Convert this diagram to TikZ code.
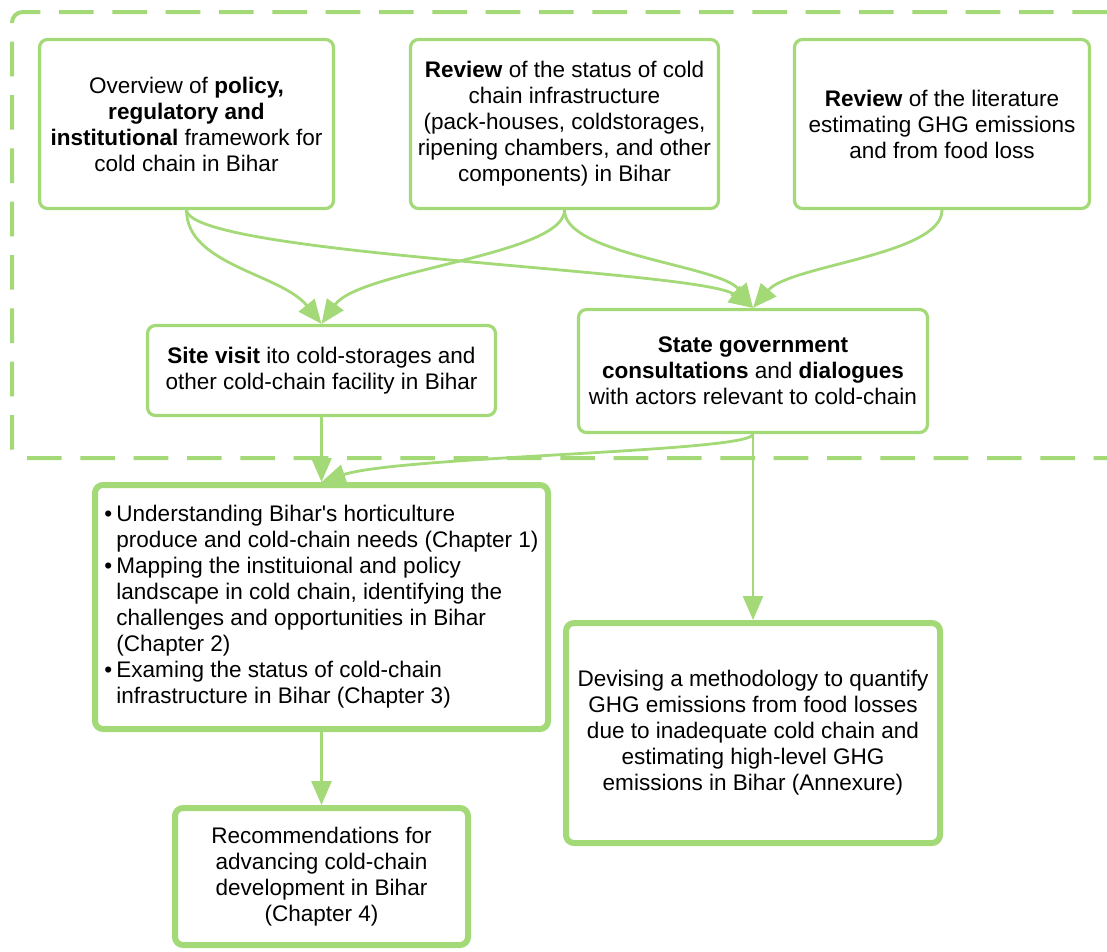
\documentclass[tikz,border=0pt]{standalone}
\usepackage{fontspec}
\setmainfont{Liberation Sans}[Ligatures=TeXOff]
\usetikzlibrary{arrows.meta}
\definecolor{leaf}{RGB}{163,217,119}
\newcommand{\bul}{\makebox[9pt][l]{\textbullet}}
\newcommand{\ind}{\hspace*{9pt}}

\begin{document}
\begin{tikzpicture}[x=0.75pt,y=-0.75pt,
  font=\fontsize{16.9}{19.5}\selectfont,
  box/.style={draw=leaf, line width=2.4pt, rounded corners=6pt, fill=white,
              align=center, inner sep=0pt},
  heavybox/.style={box, line width=4.5pt},
  link/.style={draw=leaf, line width=2.1pt, -{Triangle[length=18pt,width=15pt]}},
  outline/.style={draw=leaf, line width=3pt, dash pattern=on 26pt off 14pt,
                  rounded corners=8pt}]
\useasboundingbox (0,0) rectangle (1107,951);
\clip (0,0) rectangle (1107,951);

% dashed frame around the desk-review and consultation stages,
% open towards the right-hand edge
\draw[outline] (1107,12) -- (12,12) -- (12,458) -- (1107,458);

% top row
\node[box, minimum width=220.5pt, minimum height=126.75pt] (ov) at (186.5,124)
  {Overview of \textbf{policy,}\\ \textbf{regulatory and}\\
   \textbf{institutional} framework for\\ cold chain in Bihar};
\node[box, minimum width=231pt, minimum height=126.75pt] (rs) at (564.5,124)
  {\textbf{Review} of the status of cold\\ chain infrastructure\\
   (pack-houses, coldstorages,\\ ripening chambers, and other\\
   components) in Bihar};
\node[box, minimum width=221.25pt, minimum height=126.75pt] (lit) at (942,124)
  {\textbf{Review} of the literature\\ estimating GHG emissions\\ and from food loss};

% second row
\node[box, minimum width=261pt, minimum height=67.5pt] (site) at (321.5,370.5)
  {\textbf{Site visit} ito cold-storages and\\ other cold-chain facility in Bihar};
\node[box, minimum width=261.75pt, minimum height=92.25pt] (state) at (753,371)
  {\textbf{State government}\\ \textbf{consultations} and \textbf{dialogues}\\
   with actors relevant to cold-chain};

% outputs
\node[heavybox, align=left, minimum width=339.75pt, minimum height=183pt] (chap) at (321.5,607)
  {\bul Understanding Bihar's horticulture\\
   \ind produce and cold-chain needs (Chapter 1)\\
   \bul Mapping the instituional and policy\\
   \ind landscape in cold chain, identifying the\\
   \ind challenges and opportunities in Bihar\\
   \ind (Chapter 2)\\
   \bul Examing the status of cold-chain\\
   \ind infrastructure in Bihar (Chapter 3)};
\node[heavybox, minimum width=280.5pt, minimum height=165pt] (dev) at (753,733)
  {Devising a methodology to quantify\\ GHG emissions from food losses\\
   due to inadequate cold chain and\\ estimating high-level GHG\\
   emissions in Bihar (Annexure)};
\node[heavybox, minimum width=219.75pt, minimum height=102.75pt] (rec) at (321.5,876.5)
  {Recommendations for\\ advancing cold-chain\\ development in Bihar\\ (Chapter 4)};

% connectors
\draw[link] (ov.south) .. controls +(0,55) and +(-40,-50) .. (site.north);
\draw[link] (ov.south) .. controls +(5,45) and +(-53,-38) .. (state.north);
\draw[link] (rs.south) .. controls +(0,45) and +(38,-54) .. (site.north);
\draw[link] (rs.south) .. controls +(0,45) and +(-33,-43) .. (state.north);
\draw[link] (lit.south) .. controls +(0,45) and +(37,-43) .. (state.north);
\draw[link] (site.south) -- (chap.north);
\draw[link] (state.south) .. controls +(0,18) and +(78,-26) .. (chap.north);
\draw[link] (state.south) -- (dev.north);
\draw[link] (chap.south) -- (rec.north);
\end{tikzpicture}
\end{document}
